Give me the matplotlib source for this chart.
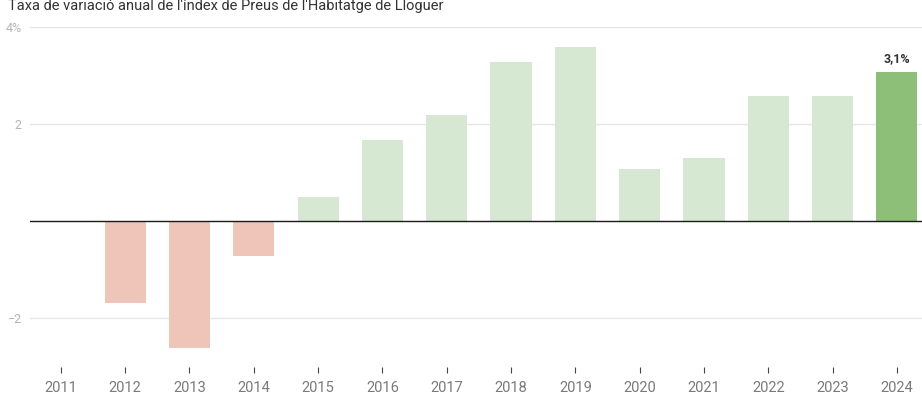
import matplotlib
matplotlib.use("Agg")
import matplotlib.pyplot as plt

# Annual change of the rental housing price index (%)
years = ["2011", "2012", "2013", "2014", "2015", "2016", "2017",
         "2018", "2019", "2020", "2021", "2022", "2023", "2024"]
values = [0.0, -1.69, -2.60, -0.72, 0.49, 1.67, 2.19,
          3.28, 3.59, 1.07, 1.30, 2.58, 2.58, 3.07]
last_label = "3,1%"

plt.rcParams['font.family'] = ['Roboto', 'DejaVu Sans']

fig = plt.figure(figsize=(9.22, 4.08), dpi=100)
ax = fig.add_axes([30 / 922, 1 - 367 / 408, 892 / 922, 340 / 408])

colors = []
for i, v in enumerate(values):
    if i == len(values) - 1:
        colors.append("#8dbf78")
    elif v < 0:
        colors.append("#efc4b9")
    else:
        colors.append("#d6e8d1")

x = list(range(len(years)))
ax.bar(x, values, width=0.64, color=colors, zorder=2)
ax.axhline(0, color="#1a1a1a", lw=1.0, zorder=3)

ax.set_xlim(-0.48, 13.39)
ax.set_ylim(-3.0, 4.0)
ax.set_yticks([-2, 2, 4])
ax.set_yticklabels(["\u22122", "2", "4%"])
ax.yaxis.grid(True, color="#e6e6e6", lw=1, zorder=0)
ax.tick_params(axis="y", length=0, pad=6, labelsize=9, labelcolor="#b4b4b4")

ax.set_xticks(x)
ax.set_xticklabels(years)
ax.tick_params(axis="x", length=4, width=0.8, color="#444444", pad=6,
               labelsize=10.5, labelcolor="#7a7a7a")

for s in ax.spines.values():
    s.set_visible(False)

ax.text(x[-1], values[-1] + 0.14, last_label, ha="center", va="bottom",
        fontsize=9, fontweight="bold", color="#333333")

fig.text(8 / 922, 1 - 10 / 408, "Taxa de variació anual de l'índex de Preus de l'Habitatge de Lloguer",
         ha="left", va="baseline", fontsize=10.5, color="#333333")

fig.savefig("out.png", dpi=100)
